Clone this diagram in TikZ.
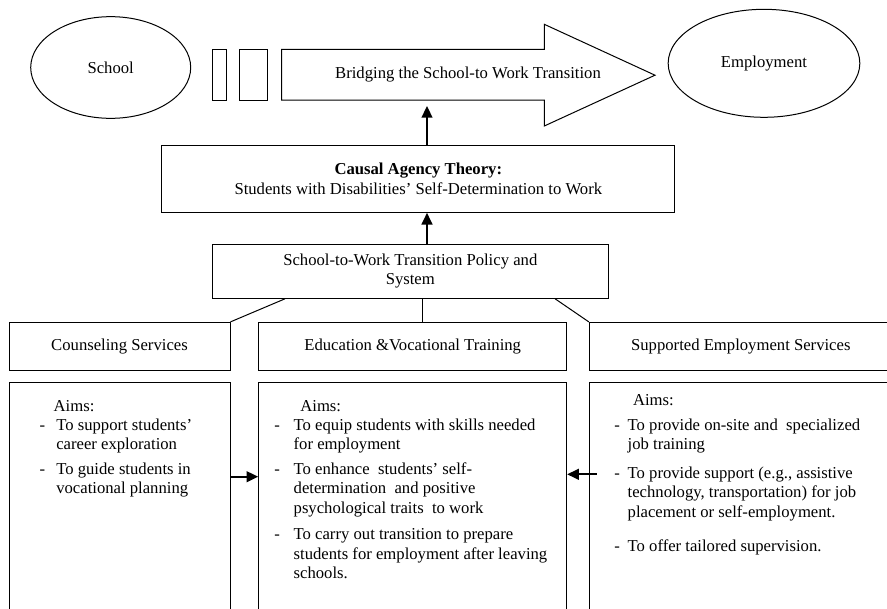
\documentclass[tikz,border=0pt]{standalone}
\usepackage{fontspec}
\setmainfont{Liberation Serif}
\usepackage{xcolor}
\usetikzlibrary{shapes.geometric,arrows.meta,calc}

\tikzset{
	box/.style={draw, line width=0.6pt, inner sep=0pt, align=center},
	oval/.style={ellipse, draw, line width=0.6pt, inner sep=0pt},
	arr/.style={line width=1pt, -{Triangle[length=7pt,width=6.5pt]}},
	aims/.style={anchor=north west, inner sep=0pt, align=left},
}

\begin{document}
\begin{tikzpicture}[x=0.6pt, y=-0.6pt, font=\fontsize{10}{11.6}\selectfont]
	\useasboundingbox (0,0) rectangle (887,609);
	\clip (0,0) rectangle (887,609);

	% School -> Employment
	\node[oval, minimum width=96pt, minimum height=61pt] (school) at (110.7,67.5) {School};
	\node[oval, minimum width=115pt, minimum height=64.8pt] (employ) at (764,63.3) {Employment};
	\node[box, minimum width=8.2pt, minimum height=30.4pt] (bar1) at (219.2,74.7) {};
	\node[box, minimum width=17pt, minimum height=30.4pt] (bar2) at (253.8,74.7) {};
	\draw[line width=0.6pt] (281.7,49.3) -- (544.3,49.3) -- (544.3,24.3) -- (655,75.2)
		-- (544.3,126) -- (544.3,100) -- (281.7,100) -- cycle;
	\node (bridge) at (468,75) {Bridging the School-to Work Transition};
	\coordinate (bridgefoot) at (427,106);

	% Theory and policy
	\node[box, minimum width=308pt, minimum height=40pt] (causal) at (418.3,179)
		{\textbf{Causal Agency Theory:}\\[0.8pt]Students with Disabilities' Self-Determination to Work};
	\node[box, minimum width=237.6pt, minimum height=32.6pt] (policy) at (410.3,271.2)
		{School-to-Work Transition Policy and\\System};

	\draw[arr] (causal.north -| bridgefoot) -- (bridgefoot);
	\draw[arr] (policy.north -| bridgefoot) -- (causal.south -| bridgefoot);

	% Services
	\node[box, minimum width=132.6pt, minimum height=28.6pt] (counsel) at (119.5,346.2) {Counseling Services};
	\node[box, minimum width=184.8pt, minimum height=28.6pt] (edu) at (412.7,346.2) {Education \&Vocational Training};
	\node[box, minimum width=181.8pt, minimum height=28.6pt] (supp) at (740.8,346.2) {Supported Employment Services};

	% Draw the lines from the policy box
	\draw[line width=0.6pt] ($(policy.south west)!0.184!(policy.south east)$) -- (counsel.north east);
	\draw[line width=0.6pt] ($(policy.south west)!0.531!(policy.south east)$) coordinate (polmid) -- (polmid |- edu.north);
	\draw[line width=0.6pt] ($(policy.south west)!0.865!(policy.south east)$) -- (supp.north west);

	% Aims
	\node[box, minimum width=132.6pt, minimum height=145.6pt] (counselaims) at (119.5,503.7) {};
	\node[box, minimum width=184.8pt, minimum height=145.6pt] (eduaims) at (412.7,503.7) {};
	\node[box, minimum width=181.8pt, minimum height=145.6pt] (suppaims) at (740.8,503.7) {};

	\node[aims] (counseltext) at (39.3,397.2) {\strut\hspace*{8.4pt}Aims:\\
		\makebox[10pt][l]{-}To support students'\\
		\hspace*{10pt}career exploration\\[3.2pt]
		\makebox[10pt][l]{-}To guide students in\\
		\hspace*{10pt}vocational planning};
	\node[aims] (edutext) at (274,397.2) {\strut\hspace*{15.6pt}Aims:\\
		\makebox[11.6pt][l]{-}To equip students with skills needed\\
		\hspace*{11.6pt}for employment\\[3.2pt]
		\makebox[11.6pt][l]{-}To enhance\ \ students' self-\\
		\hspace*{11.6pt}determination\ \ and positive\\
		\hspace*{11.6pt}psychological traits\ \ to work\\[4.4pt]
		\makebox[11.6pt][l]{-}To carry out transition to prepare\\
		\hspace*{11.6pt}students for employment after leaving\\
		\hspace*{11.6pt}schools.};
	\node[aims] (supptext) at (614,391.5) {\strut\hspace*{11.2pt}Aims:\\[3.2pt]
		\makebox[8pt][l]{-}To provide on-site and\ \ specialized\\
		\hspace*{8pt}job training\\[5.8pt]
		\makebox[8pt][l]{-}To provide support (e.g., assistive\\
		\hspace*{8pt}technology, transportation) for job\\
		\hspace*{8pt}placement or self-employment.\\[8.8pt]
		\makebox[8pt][l]{-}To offer tailored supervision.};

	\coordinate (leftarrow) at (0,476.7);
	\coordinate (rightarrow) at (596.7,474.3);
	\draw[arr] (counselaims.east |- leftarrow) -- (eduaims.west |- leftarrow);
	\draw[arr] (rightarrow) -- (eduaims.east |- rightarrow);
\end{tikzpicture}
\end{document}
